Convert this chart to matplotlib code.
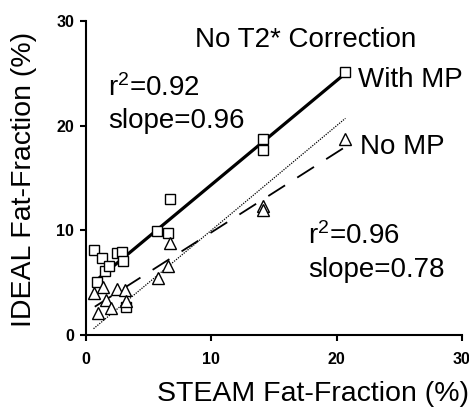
import numpy as np
import matplotlib
matplotlib.use("Agg")
import matplotlib.pyplot as plt

plt.rcParams['font.family'] = ['Liberation Sans', 'DejaVu Sans']
plt.rcParams['mathtext.fontset'] = 'custom'
plt.rcParams['mathtext.rm'] = 'Liberation Sans'
plt.rcParams['mathtext.default'] = 'rm'

# with MP (squares)
steam_mp = [0.64, 1.25, 1.5, 1.85, 2.44, 2.9, 2.97, 0.85, 3.16, 5.67, 6.55, 6.7, 14.1, 14.1, 20.66]
ideal_mp = [8.1, 7.35, 6.1, 6.55, 7.8, 7.9, 7.1, 5.1, 2.7, 9.9, 9.75, 13.0, 18.75, 17.7, 25.1]

# no MP (triangles)
steam_nomp = [0.66, 1.33, 1.6, 0.98, 2.0, 2.5, 3.1, 3.2, 5.75, 6.55, 6.7, 14.1, 14.1, 20.7]
ideal_nomp = [4.05, 4.55, 3.35, 2.1, 2.55, 4.4, 4.3, 3.2, 5.45, 6.55, 8.8, 12.3, 11.9, 18.75]

# regression lines (end points)
fit_x = [0.7, 20.6]
fit_mp = [5.1, 24.9]
fit_nomp = [2.7, 17.9]
ident_x = [0.6, 20.7]

xticks = [0, 10, 20, 30]
yticks = [0, 10, 20, 30]

fig = plt.figure(figsize=(4.69, 4.15), dpi=100)
ax = fig.add_axes([0.1834, 0.1928, 0.985 - 0.1834, 0.9494 - 0.1928])

ax.plot(ident_x, ident_x, color="black", linestyle=(0, (1, 1)), linewidth=0.9)
ax.plot(fit_x, fit_mp, color="black", linewidth=2.3, solid_capstyle="butt")
ax.plot(fit_x, fit_nomp, color="black", linewidth=1.3, linestyle=(0, (11, 8)))

ax.plot(steam_mp, ideal_mp, linestyle="none", marker="s", markersize=7,
        markerfacecolor="white", markeredgecolor="black", markeredgewidth=1.0)
ax.plot(steam_nomp, ideal_nomp, linestyle="none", marker="^", markersize=8,
        markerfacecolor="white", markeredgecolor="black", markeredgewidth=1.0)

ax.set_xlim(0, 30)
ax.set_ylim(0, 30)
ax.set_xticks(xticks)
ax.set_yticks(yticks)
for s in ["top", "right"]:
    ax.spines[s].set_visible(False)
for s in ["left", "bottom"]:
    ax.spines[s].set_linewidth(1.5)
ax.tick_params(direction="out", length=4.5, width=1.5)
ax.tick_params(axis="x", pad=8)
ax.tick_params(axis="y", pad=4)
for lab in ax.get_xticklabels() + ax.get_yticklabels():
    lab.set_fontweight("bold")
    lab.set_fontsize(11.5)

ax.set_xlabel("STEAM Fat-Fraction (%)", fontsize=20.5, labelpad=10, loc="right")
ax.xaxis.label.set_x(1.018)
ax.set_ylabel("IDEAL Fat-Fraction (%)", fontsize=20.5, labelpad=14, loc="bottom")
ax.yaxis.label.set_y(0.025)

ax.text(8.7, 28.2, "No T2* Correction", fontsize=20, va="center")
ax.text(1.75, 23.6, "r$^{2}$=0.92", fontsize=20, va="center")
ax.text(1.75, 20.4, "slope=0.96", fontsize=20, va="center")
ax.text(21.7, 24.4, "With MP", fontsize=20, va="center")
ax.text(21.9, 18.0, "No MP", fontsize=20, va="center")
ax.text(17.7, 9.45, "r$^{2}$=0.96", fontsize=20, va="center")
ax.text(17.7, 6.2, "slope=0.78", fontsize=20, va="center")

fig.savefig("out.png", dpi=100)
